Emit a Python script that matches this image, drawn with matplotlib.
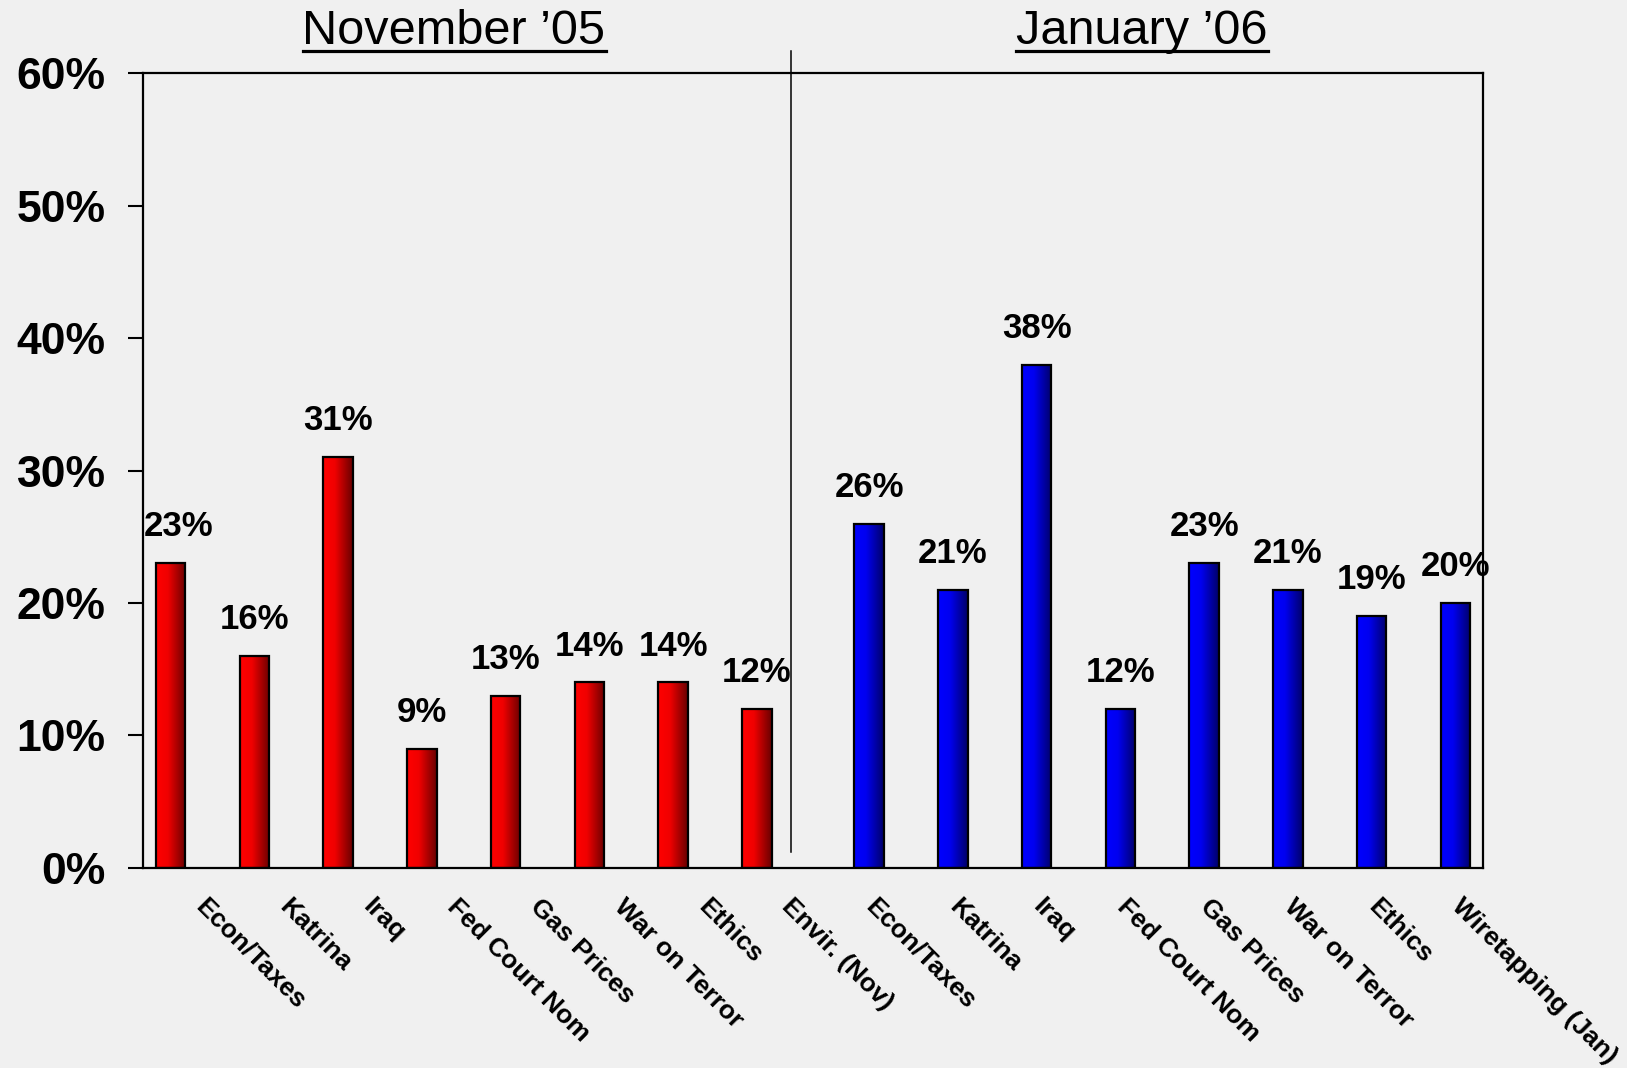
import matplotlib
matplotlib.use('Agg')
import matplotlib.pyplot as plt
import numpy as np
from matplotlib.colors import LinearSegmentedColormap
from matplotlib.transforms import ScaledTranslation
from matplotlib.lines import Line2D

# Data
categories = ['Econ/Taxes', 'Katrina', 'Iraq', 'Fed Court Nom', 'Gas Prices',
              'War on Terror', 'Ethics', 'Envir. (Nov)',
              'Econ/Taxes', 'Katrina', 'Iraq', 'Fed Court Nom', 'Gas Prices',
              'War on Terror', 'Ethics', 'Wiretapping (Jan)']
nov_05 = [23, 16, 31, 9, 13, 14, 14, 12]
jan_06 = [26, 21, 38, 12, 23, 21, 19, 20]
periods = ['November \u201905', 'January \u201906']
yticks = [0, 10, 20, 30, 40, 50, 60]

plt.rcParams['font.family'] = ['Liberation Sans', 'DejaVu Sans']
bg = '#f0f0f0'

fig = plt.figure(figsize=(16.27, 10.68), dpi=100, facecolor=bg)
ax = fig.add_axes([0.0879, 0.1873, 0.8236, 0.7443], facecolor=bg)

red_cmap = LinearSegmentedColormap.from_list('r', [(0, '#ff0000'), (0.4, '#f00000'), (1, '#680000')])
blue_cmap = LinearSegmentedColormap.from_list('b', [(0, '#0000ff'), (0.4, '#0000f0'), (1, '#000068')])

w = 0.35
off = 0.17
x_nov = np.arange(len(nov_05)) - off
x_jan = np.arange(len(nov_05), len(categories)) + off

def gradient_bars(bars, cmap):
    grad = np.linspace(0, 1, 256).reshape(1, -1)
    for b in bars:
        x0, y0 = b.get_x(), b.get_y()
        bw, bh = b.get_width(), b.get_height()
        im = ax.imshow(grad, cmap=cmap, extent=(x0, x0 + bw, y0, y0 + bh),
                       aspect='auto', zorder=2, interpolation='bicubic')
        im.set_clip_path(b)

bars_nov = ax.bar(x_nov, nov_05, width=w, facecolor='none', edgecolor='black', linewidth=1.6, zorder=3)
bars_jan = ax.bar(x_jan, jan_06, width=w, facecolor='none', edgecolor='black', linewidth=1.6, zorder=3)
gradient_bars(bars_nov, red_cmap)
gradient_bars(bars_jan, blue_cmap)

# value labels (first one nudged right so it clears the axis)
for xs, vals in [(x_nov, nov_05), (x_jan, jan_06)]:
    for i, (x, v) in enumerate(zip(xs, vals)):
        lx = x + 0.1 if (xs is x_nov and i == 0) else x
        ax.text(lx, v + 1.5, '%d%%' % v, ha='center', va='bottom',
                fontsize=25, fontweight='bold', zorder=4)

ax.set_xlim(-0.5, len(categories) - 0.5)
ax.set_ylim(0, 60)

# y axis
ax.set_yticks(yticks)
ax.set_yticklabels(['%d%%' % t for t in yticks], fontsize=32, fontweight='bold')
ax.tick_params(axis='y', length=11, width=1.5, pad=16, direction='out')

# x axis
ax.set_xticks(np.arange(len(categories)))
ax.set_xticklabels(categories, rotation=-45, ha='left', va='top',
                   rotation_mode='anchor', fontsize=19, fontweight='bold')
ax.tick_params(axis='x', length=0, pad=19)
shift = ScaledTranslation(0.23, 0, fig.dpi_scale_trans)
for lab in ax.get_xticklabels():
    lab.set_transform(lab.get_transform() + shift)

for s in ax.spines.values():
    s.set_linewidth(1.6)
    s.set_color('black')

# divider between the two periods
ax.plot([7.24, 7.24], [1.2, 61.7], color='black', linewidth=1.1, clip_on=False, zorder=5)

# period titles, underlined
title_x = [454 / 1627, 1142 / 1627]
base_y = 1 - 44 / 1068
titles = []
for tx, p in zip(title_x, periods):
    titles.append(fig.text(tx, base_y, p, ha='center', va='baseline', fontsize=35))

fig.canvas.draw()
r = fig.canvas.get_renderer()
for t in titles:
    bb = t.get_window_extent(renderer=r).transformed(fig.transFigure.inverted())
    fig.add_artist(Line2D([bb.x0, bb.x1], [1 - 51 / 1068] * 2, color='black',
                          linewidth=2.3, transform=fig.transFigure))

fig.savefig('out.png', dpi=100, facecolor=bg)
